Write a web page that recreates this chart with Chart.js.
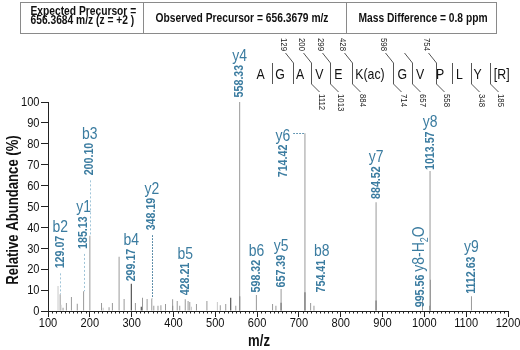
<!DOCTYPE html>
<html lang="en">
<head>
<meta charset="UTF-8">
<title>MS/MS spectrum</title>
<script src="https://cdn.jsdelivr.net/npm/chart.js"></script>
<style>
  html, body { margin: 0; padding: 0; background: #fff; }
  #wrap { position: relative; width: 520px; height: 350px; }
</style>
</head>
<body>
<div id="wrap"><canvas id="spec" width="520" height="350"></canvas></div>
<script>
// peaks: m/z and relative abundance (%)
const mzGray  = [129.07, 136, 144, 156, 170, 185.13, 200.10, 228, 246, 254, 270, 282, 309, 326, 337, 348.19, 353, 363, 370, 381, 398, 409, 415, 428.21, 435, 439, 455, 480, 512, 525, 549, 558.33, 598.32, 637, 645, 657.39, 714.42, 728, 736, 884.52, 995.56, 1013.57, 1014.6, 1112.63];
const intGray = [8, 1.5, 3.8, 6.7, 3.5, 9.4, 36, 3.8, 1.8, 3.8, 26, 5.7, 3.8, 6.3, 5.7, 6, 2.5, 2.5, 2.8, 3.3, 5.6, 4.8, 2.5, 5.6, 4.8, 4.3, 3.3, 4.8, 2.7, 3.3, 2.5, 100, 7.6, 3.3, 2.5, 10.5, 85, 3.8, 2.5, 52, 5, 67, 15, 7];
const mzDark  = [299.17, 323, 398, 537, 558.33, 657.39, 714.42, 884.52, 1013.57];
const intDark = [13, 2, 2.5, 6.3, 7, 4, 9, 5, 2.5];
const mzLight  = [124, 131, 232, 443, 505];
const intLight = [12, 3, 1.5, 2, 4.3];

// axis ticks
const xTicks = [100, 200, 300, 400, 500, 600, 700, 800, 900, 1000, 1100, 1200];
const yTicks = [0, 10, 20, 30, 40, 50, 60, 70, 80, 90, 100];

// annotated fragment ions
const ionNames = ['b2', 'y1', 'b3', 'b4', 'y2', 'b5', 'y4', 'b6', 'y5', 'y6', 'b8', 'y7', 'y8-H2O', 'y8', 'y9'];
const ionMz = [129.07, 185.13, 200.10, 299.17, 348.19, 428.21, 558.33, 598.32, 657.39, 714.42, 754.41, 884.52, 995.56, 1013.57, 1112.63];

// label placement: top of the m/z text (in % units), x shift (px), connector style
const ionLabelAt = [36, 45.3, 80.5, 29.8, 54.2, 23.1, 117.8, 24.5, 26.9, 79.6, 24.5, 69.2, 17.4, 85.9, 26.1];
const ionShift = [0, 0, 0, 0, 0, 0, 0, 0, 0, -22, 0, 0, -2, 0, 0];
const ionLink = ['dash', 'dash', 'dash', null, 'dot', null, null, null, null, 'hdot', null, null, null, null, null];

// peptide sequence and fragment ladder
const residues = ['A', 'G', 'A', 'V', 'E', 'K(ac)', 'G', 'V', 'P', 'L', 'Y', '[R]'];
const bFrag = [null, '129', '200', '299', '428', '598', '', '754', null, null, null];
const yFrag = [null, null, '1112', '1013', '884', '714', '657', '558', null, '348', '185'];
const resX = [260.7, 280, 300, 319.3, 338.3, 370, 402.3, 420, 440, 459.3, 477.7, 501.7];
const siteX = [271.7, 293, 311, 330, 352, 393, 411.7, 436, 452.3, 471, 490];

function hasFont(name) {
  const c = document.createElement('canvas').getContext('2d');
  const s = 'abcdefgWMi0123456789';
  c.font = '20px monospace';
  const a = c.measureText(s).width;
  c.font = '20px "' + name + '", monospace';
  return c.measureText(s).width !== a;
}
// no narrow face installed? squeeze Liberation Sans instead
const HAS_NARROW = hasFont('Liberation Sans Narrow');
const FAMILY = HAS_NARROW ? '"Liberation Sans Narrow"' : '"Liberation Sans"';
const SQ = HAS_NARROW ? 1 : 0.82;
const BLUE = '#3b7ca0';

function toPts(xs, ys) { return xs.map((m, i) => ({ x: m, y: ys[i] })); }

function peakTop(m) {
  let best = 0;
  [[mzGray, intGray], [mzDark, intDark], [mzLight, intLight]].forEach(([xs, ys]) => {
    xs.forEach((v, i) => { if (Math.abs(v - m) < 0.6) best = Math.max(best, ys[i]); });
  });
  return best;
}

function line(ctx, x1, y1, x2, y2) {
  ctx.beginPath(); ctx.moveTo(x1, y1); ctx.lineTo(x2, y2); ctx.stroke();
}

function font(size, bold) { return (bold ? 'bold ' : '') + size + 'px ' + FAMILY; }

function tw(ctx, s, size, bold) { ctx.font = font(size, bold); return ctx.measureText(s).width * SQ; }

// condensed text, optionally rotated
function txt(ctx, s, x, y, o) {
  ctx.save();
  ctx.translate(x, y);
  if (o.rot) ctx.rotate(o.rot);
  ctx.scale(SQ, 1);
  ctx.font = font(o.size, o.bold);
  ctx.fillStyle = o.color || '#111';
  ctx.textAlign = o.align || 'left';
  ctx.textBaseline = o.base || 'alphabetic';
  ctx.fillText(s, 0, 0);
  ctx.restore();
}

const annot = {
  id: 'annot',
  afterDraw(chart) {
    const { ctx, scales: { x, y } } = chart;
    ctx.save();

    // minor ticks every 10
    ctx.strokeStyle = '#222'; ctx.lineWidth = 1;
    for (let v = 110; v < 1200; v += 10) {
      if (v % 100 === 0) continue;
      const px = Math.round(x.getPixelForValue(v)) + 0.5;
      line(ctx, px, y.bottom, px, y.bottom + 2.5);
    }

    // tick labels and titles
    xTicks.forEach(v => txt(ctx, String(v), x.getPixelForValue(v), 323.5, { size: 13.5, align: 'center', base: 'middle' }));
    yTicks.forEach(v => txt(ctx, String(v), 39.5, y.getPixelForValue(v) + 0.5, { size: 13.5, align: 'right', base: 'middle' }));
    txt(ctx, 'm/z', 259, 342, { size: 16, bold: true, align: 'center', base: 'middle' });
    txt(ctx, 'Relative Abundance (%)', 14, 210, { size: 16, bold: true, align: 'center', base: 'middle', rot: -Math.PI / 2 });

    // ion labels
    ionNames.forEach((name, i) => {
      const px = x.getPixelForValue(ionMz[i]) + ionShift[i];
      const top = y.getPixelForValue(ionLabelAt[i]);
      const val = ionMz[i].toFixed(2);
      const vw = tw(ctx, val, 13, true);
      txt(ctx, val, px, top, { size: 13, bold: true, color: BLUE, align: 'right', base: 'middle', rot: -Math.PI / 2 });
      if (name === 'y8-H2O') {
        // rotated name with subscript, stacked above the value
        let cy = top - 3;
        txt(ctx, 'y8-H', px - 1, cy, { size: 17, color: BLUE, align: 'left', base: 'middle', rot: -Math.PI / 2 });
        cy -= tw(ctx, 'y8-H', 17);
        txt(ctx, '2', px + 4, cy, { size: 11, color: BLUE, align: 'left', base: 'middle', rot: -Math.PI / 2 });
        cy -= tw(ctx, '2', 11);
        txt(ctx, 'O', px - 1, cy, { size: 17, color: BLUE, align: 'left', base: 'middle', rot: -Math.PI / 2 });
      } else {
        txt(ctx, name, px, top - 4, { size: 17, color: BLUE, align: 'center' });
      }
      const link = ionLink[i];
      if (link) {
        const pk = y.getPixelForValue(peakTop(ionMz[i]));
        ctx.lineWidth = 1;
        if (link === 'hdot') {
          const nw = tw(ctx, name, 17);
          const pxPeak = x.getPixelForValue(ionMz[i]);
          ctx.strokeStyle = BLUE; ctx.setLineDash([1.5, 1.5]);
          line(ctx, px + nw / 2 + 3, Math.round(pk) + 0.5, pxPeak, Math.round(pk) + 0.5);
        } else {
          const xx = Math.round(px) + 0.5;
          if (link === 'dash') { ctx.strokeStyle = '#9fc4d8'; ctx.setLineDash([2, 2]); }
          else { ctx.strokeStyle = '#2f6d90'; ctx.setLineDash([1.5, 1.5]); }
          line(ctx, xx, top + vw + 5, xx, pk);
        }
        ctx.setLineDash([]);
      }
    });

    // header box
    ctx.strokeStyle = '#8a8a8a'; ctx.lineWidth = 1;
    ctx.strokeRect(20.5, 2.5, 476, 31);
    line(ctx, 143.5, 2.5, 143.5, 33.5);
    line(ctx, 346.5, 2.5, 346.5, 33.5);
    txt(ctx, 'Expected Precursor =', 30.5, 15, { size: 12.5, bold: true });
    txt(ctx, '656.3684 m/z (z = +2 )', 30.5, 23.5, { size: 12.5, bold: true });
    txt(ctx, 'Observed Precursor = 656.3679 m/z', 242, 22, { size: 12.5, bold: true, align: 'center' });
    txt(ctx, 'Mass Difference = 0.8 ppm', 423, 22, { size: 12.5, bold: true, align: 'center' });

    // sequence
    residues.forEach((r, i) => txt(ctx, r, resX[i], 79, { size: 15, align: 'center' }));
    ctx.strokeStyle = '#555'; ctx.lineWidth = 1;
    siteX.forEach((sx, i) => {
      const xx = Math.round(sx) + 0.5;
      line(ctx, xx, 63, xx, 84);
      if (bFrag[i] !== null) {
        line(ctx, xx, 63, xx - 8, 53);
        if (bFrag[i]) txt(ctx, bFrag[i], xx - 10, 51, { size: 9.5, align: 'right', base: 'middle', rot: Math.PI / 2, color: '#222' });
      }
      if (yFrag[i] !== null) {
        line(ctx, xx, 84, xx + 8, 92);
        if (yFrag[i]) txt(ctx, yFrag[i], xx + 10, 94, { size: 9.5, align: 'left', base: 'middle', rot: Math.PI / 2, color: '#222' });
      }
    });
    ctx.restore();
  }
};

new Chart(document.getElementById('spec'), {
  type: 'bar',
  data: {
    datasets: [
      { data: toPts(mzLight, intLight), backgroundColor: '#c8c8c8' },
      { data: toPts(mzGray, intGray), backgroundColor: '#999999' },
      { data: toPts(mzDark, intDark), backgroundColor: '#333333' }
    ]
  },
  options: {
    responsive: false,
    animation: false,
    layout: { padding: { top: 102, right: 12, left: 0, bottom: 0 } },
    datasets: { bar: { barThickness: 1, grouped: false, borderWidth: 0, inflateAmount: 0 } },
    plugins: { legend: { display: false }, tooltip: { enabled: false } },
    scales: {
      x: {
        type: 'linear', min: 100, max: 1200, offset: false,
        grid: { offset: false, drawOnChartArea: false, tickLength: 6, color: '#222' },
        border: { color: '#222' },
        ticks: { stepSize: 100, display: false },
        afterFit: s => { s.height = 39; }
      },
      y: {
        min: 0, max: 100,
        grid: { drawOnChartArea: false, tickLength: 7, color: '#222' },
        border: { color: '#222' },
        ticks: { stepSize: 10, display: false },
        afterFit: s => { s.width = 48; }
      }
    }
  },
  plugins: [annot]
});
</script>
</body>
</html>
